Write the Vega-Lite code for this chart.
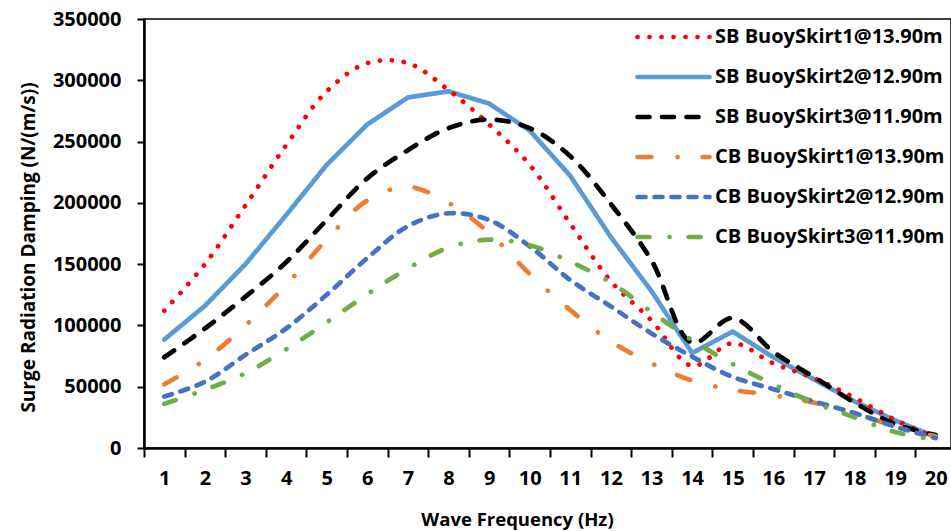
{
  "$schema": "https://vega.github.io/schema/vega-lite/v6.json",
  "width": 807,
  "height": 429,
  "autosize": {"type": "none"},
  "padding": {"left": 144, "top": 19, "right": 0, "bottom": 83},
  "background": "white",
  "config": {
    "font": "Open Sans",
    "view": {"stroke": "black", "strokeWidth": 1.5},
    "axis": {"grid": false, "domainColor": "black", "tickColor": "black", "labelColor": "black", "titleColor": "black", "labelFont": "Open Sans", "titleFont": "Open Sans", "labelFontWeight": "bold", "titleFontWeight": "bold", "labelFontSize": 20, "titleFontSize": 19, "titleLimit": 1000}
  },
  "data": {"values": [
    {"f":1,"v":112000,"s":"SB BuoySkirt1@13.90m"},{"f":2,"v":150000,"s":"SB BuoySkirt1@13.90m"},{"f":3,"v":198000,"s":"SB BuoySkirt1@13.90m"},{"f":4,"v":247000,"s":"SB BuoySkirt1@13.90m"},{"f":5,"v":291000,"s":"SB BuoySkirt1@13.90m"},{"f":6,"v":314000,"s":"SB BuoySkirt1@13.90m"},{"f":7,"v":314000,"s":"SB BuoySkirt1@13.90m"},{"f":8,"v":292000,"s":"SB BuoySkirt1@13.90m"},{"f":9,"v":264000,"s":"SB BuoySkirt1@13.90m"},{"f":10,"v":231000,"s":"SB BuoySkirt1@13.90m"},{"f":11,"v":183000,"s":"SB BuoySkirt1@13.90m"},{"f":12,"v":136000,"s":"SB BuoySkirt1@13.90m"},{"f":13,"v":104000,"s":"SB BuoySkirt1@13.90m"},{"f":14,"v":67000,"s":"SB BuoySkirt1@13.90m"},{"f":15,"v":85500,"s":"SB BuoySkirt1@13.90m"},{"f":16,"v":69000,"s":"SB BuoySkirt1@13.90m"},{"f":17,"v":57000,"s":"SB BuoySkirt1@13.90m"},{"f":18,"v":41000,"s":"SB BuoySkirt1@13.90m"},{"f":19,"v":23000,"s":"SB BuoySkirt1@13.90m"},{"f":20,"v":8500,"s":"SB BuoySkirt1@13.90m"},
    {"f":1,"v":88500,"s":"SB BuoySkirt2@12.90m"},{"f":2,"v":116000,"s":"SB BuoySkirt2@12.90m"},{"f":3,"v":150000,"s":"SB BuoySkirt2@12.90m"},{"f":4,"v":190000,"s":"SB BuoySkirt2@12.90m"},{"f":5,"v":231000,"s":"SB BuoySkirt2@12.90m"},{"f":6,"v":264000,"s":"SB BuoySkirt2@12.90m"},{"f":7,"v":286000,"s":"SB BuoySkirt2@12.90m"},{"f":8,"v":291000,"s":"SB BuoySkirt2@12.90m"},{"f":9,"v":281000,"s":"SB BuoySkirt2@12.90m"},{"f":10,"v":259000,"s":"SB BuoySkirt2@12.90m"},{"f":11,"v":222000,"s":"SB BuoySkirt2@12.90m"},{"f":12,"v":172000,"s":"SB BuoySkirt2@12.90m"},{"f":13,"v":128000,"s":"SB BuoySkirt2@12.90m"},{"f":14,"v":77500,"s":"SB BuoySkirt2@12.90m"},{"f":15,"v":95000,"s":"SB BuoySkirt2@12.90m"},{"f":16,"v":74000,"s":"SB BuoySkirt2@12.90m"},{"f":17,"v":56000,"s":"SB BuoySkirt2@12.90m"},{"f":18,"v":38000,"s":"SB BuoySkirt2@12.90m"},{"f":19,"v":22500,"s":"SB BuoySkirt2@12.90m"},{"f":20,"v":9000,"s":"SB BuoySkirt2@12.90m"},
    {"f":1,"v":74000,"s":"SB BuoySkirt3@11.90m"},{"f":2,"v":97500,"s":"SB BuoySkirt3@11.90m"},{"f":3,"v":123500,"s":"SB BuoySkirt3@11.90m"},{"f":4,"v":151500,"s":"SB BuoySkirt3@11.90m"},{"f":5,"v":186000,"s":"SB BuoySkirt3@11.90m"},{"f":6,"v":220000,"s":"SB BuoySkirt3@11.90m"},{"f":7,"v":243000,"s":"SB BuoySkirt3@11.90m"},{"f":8,"v":261000,"s":"SB BuoySkirt3@11.90m"},{"f":9,"v":268000,"s":"SB BuoySkirt3@11.90m"},{"f":10,"v":261000,"s":"SB BuoySkirt3@11.90m"},{"f":11,"v":238000,"s":"SB BuoySkirt3@11.90m"},{"f":12,"v":199000,"s":"SB BuoySkirt3@11.90m"},{"f":13,"v":153000,"s":"SB BuoySkirt3@11.90m"},{"f":14,"v":86000,"s":"SB BuoySkirt3@11.90m"},{"f":15,"v":106000,"s":"SB BuoySkirt3@11.90m"},{"f":16,"v":78500,"s":"SB BuoySkirt3@11.90m"},{"f":17,"v":58000,"s":"SB BuoySkirt3@11.90m"},{"f":18,"v":37000,"s":"SB BuoySkirt3@11.90m"},{"f":19,"v":19500,"s":"SB BuoySkirt3@11.90m"},{"f":20,"v":10500,"s":"SB BuoySkirt3@11.90m"},
    {"f":1,"v":52000,"s":"CB BuoySkirt1@13.90m"},{"f":2,"v":72000,"s":"CB BuoySkirt1@13.90m"},{"f":3,"v":100000,"s":"CB BuoySkirt1@13.90m"},{"f":4,"v":133000,"s":"CB BuoySkirt1@13.90m"},{"f":5,"v":170000,"s":"CB BuoySkirt1@13.90m"},{"f":6,"v":202000,"s":"CB BuoySkirt1@13.90m"},{"f":7,"v":213000,"s":"CB BuoySkirt1@13.90m"},{"f":8,"v":200000,"s":"CB BuoySkirt1@13.90m"},{"f":9,"v":175500,"s":"CB BuoySkirt1@13.90m"},{"f":10,"v":142000,"s":"CB BuoySkirt1@13.90m"},{"f":11,"v":112500,"s":"CB BuoySkirt1@13.90m"},{"f":12,"v":87000,"s":"CB BuoySkirt1@13.90m"},{"f":13,"v":69000,"s":"CB BuoySkirt1@13.90m"},{"f":14,"v":55000,"s":"CB BuoySkirt1@13.90m"},{"f":15,"v":47500,"s":"CB BuoySkirt1@13.90m"},{"f":16,"v":43000,"s":"CB BuoySkirt1@13.90m"},{"f":17,"v":37000,"s":"CB BuoySkirt1@13.90m"},{"f":18,"v":28500,"s":"CB BuoySkirt1@13.90m"},{"f":19,"v":17500,"s":"CB BuoySkirt1@13.90m"},{"f":20,"v":9500,"s":"CB BuoySkirt1@13.90m"},
    {"f":1,"v":42000,"s":"CB BuoySkirt2@12.90m"},{"f":2,"v":54000,"s":"CB BuoySkirt2@12.90m"},{"f":3,"v":76000,"s":"CB BuoySkirt2@12.90m"},{"f":4,"v":97500,"s":"CB BuoySkirt2@12.90m"},{"f":5,"v":125000,"s":"CB BuoySkirt2@12.90m"},{"f":6,"v":155000,"s":"CB BuoySkirt2@12.90m"},{"f":7,"v":181000,"s":"CB BuoySkirt2@12.90m"},{"f":8,"v":191500,"s":"CB BuoySkirt2@12.90m"},{"f":9,"v":186000,"s":"CB BuoySkirt2@12.90m"},{"f":10,"v":164500,"s":"CB BuoySkirt2@12.90m"},{"f":11,"v":137000,"s":"CB BuoySkirt2@12.90m"},{"f":12,"v":115500,"s":"CB BuoySkirt2@12.90m"},{"f":13,"v":93500,"s":"CB BuoySkirt2@12.90m"},{"f":14,"v":74500,"s":"CB BuoySkirt2@12.90m"},{"f":15,"v":58000,"s":"CB BuoySkirt2@12.90m"},{"f":16,"v":48000,"s":"CB BuoySkirt2@12.90m"},{"f":17,"v":38000,"s":"CB BuoySkirt2@12.90m"},{"f":18,"v":28500,"s":"CB BuoySkirt2@12.90m"},{"f":19,"v":17500,"s":"CB BuoySkirt2@12.90m"},{"f":20,"v":8000,"s":"CB BuoySkirt2@12.90m"},
    {"f":1,"v":36000,"s":"CB BuoySkirt3@11.90m"},{"f":2,"v":47500,"s":"CB BuoySkirt3@11.90m"},{"f":3,"v":61000,"s":"CB BuoySkirt3@11.90m"},{"f":4,"v":80500,"s":"CB BuoySkirt3@11.90m"},{"f":5,"v":102500,"s":"CB BuoySkirt3@11.90m"},{"f":6,"v":125500,"s":"CB BuoySkirt3@11.90m"},{"f":7,"v":146500,"s":"CB BuoySkirt3@11.90m"},{"f":8,"v":163500,"s":"CB BuoySkirt3@11.90m"},{"f":9,"v":170000,"s":"CB BuoySkirt3@11.90m"},{"f":10,"v":165500,"s":"CB BuoySkirt3@11.90m"},{"f":11,"v":152000,"s":"CB BuoySkirt3@11.90m"},{"f":12,"v":135000,"s":"CB BuoySkirt3@11.90m"},{"f":13,"v":111000,"s":"CB BuoySkirt3@11.90m"},{"f":14,"v":88000,"s":"CB BuoySkirt3@11.90m"},{"f":15,"v":68500,"s":"CB BuoySkirt3@11.90m"},{"f":16,"v":52000,"s":"CB BuoySkirt3@11.90m"},{"f":17,"v":37000,"s":"CB BuoySkirt3@11.90m"},{"f":18,"v":25000,"s":"CB BuoySkirt3@11.90m"},{"f":19,"v":13000,"s":"CB BuoySkirt3@11.90m"},{"f":20,"v":6500,"s":"CB BuoySkirt3@11.90m"}
  ]},
  "encoding": {
    "x": {"field": "f", "type": "ordinal", "scale": {"range": [0, 812], "paddingInner": 0, "paddingOuter": 0},
      "axis": {"title": "Wave Frequency (Hz)", "labelAngle": 0, "tickBand": "extent", "tickSize": 9, "tickWidth": 2, "domainWidth": 2.5, "labelPadding": 11, "titleFontSize": 18.5, "titleX": 373, "titleY": 77, "titleBaseline": "alphabetic"}},
    "y": {"field": "v", "type": "quantitative", "scale": {"domain": [0, 350000], "nice": false},
      "axis": {"title": "Surge Radiation Damping (N/(m/s))", "values": [0, 50000, 100000, 150000, 200000, 250000, 300000, 350000], "format": "d", "tickSize": 7, "tickWidth": 2, "domainWidth": 2.5, "labelPadding": 16, "titleAngle": -90, "titleX": -110, "titleY": 228, "titleBaseline": "alphabetic", "titleAlign": "center"}},
    "color": {"field": "s", "type": "nominal",
      "scale": {"domain": ["SB BuoySkirt1@13.90m", "SB BuoySkirt2@12.90m", "SB BuoySkirt3@11.90m", "CB BuoySkirt1@13.90m", "CB BuoySkirt2@12.90m", "CB BuoySkirt3@11.90m"], "range": ["#FF0000", "#5B9BD5", "#000000", "#ED7D31", "#4472C4", "#70AD47"]},
      "legend": {"title": null, "orient": "none", "legendX": 491, "legendY": 8, "symbolType": "stroke", "symbolSize": 5184, "clipHeight": 20, "rowPadding": 20, "labelOffset": 3, "labelFont": "Open Sans", "labelFontWeight": "bold", "labelFontSize": 20, "labelColor": "black", "labelLimit": 400,
        "encode": {"symbols": {"update": {"strokeCap": {"value": "round"}}}}}},
    "strokeDash": {"field": "s", "type": "nominal",
      "scale": {"domain": ["SB BuoySkirt1@13.90m", "SB BuoySkirt2@12.90m", "SB BuoySkirt3@11.90m", "CB BuoySkirt1@13.90m", "CB BuoySkirt2@12.90m", "CB BuoySkirt3@11.90m"], "range": [[0.1, 11.9], [1, 0], [12, 12.5], [14, 26, 0.1, 25], [8, 9], [12, 20, 0.1, 19]]}},
    "strokeWidth": {"field": "s", "type": "nominal",
      "scale": {"domain": ["SB BuoySkirt1@13.90m", "SB BuoySkirt2@12.90m", "SB BuoySkirt3@11.90m", "CB BuoySkirt1@13.90m", "CB BuoySkirt2@12.90m", "CB BuoySkirt3@11.90m"], "range": [4.7, 4.7, 4.5, 4.2, 3.3, 3.3]}}
  },
  "layer": [
    {"transform": [{"filter": "datum.s === 'SB BuoySkirt2@12.90m'"}], "mark": {"type": "line", "strokeCap": "round", "strokeJoin": "round", "interpolate": "linear"}},
    {"transform": [{"filter": "datum.s !== 'SB BuoySkirt2@12.90m'"}], "mark": {"type": "line", "strokeCap": "round", "strokeJoin": "round", "interpolate": "catmull-rom"}}
  ]
}
